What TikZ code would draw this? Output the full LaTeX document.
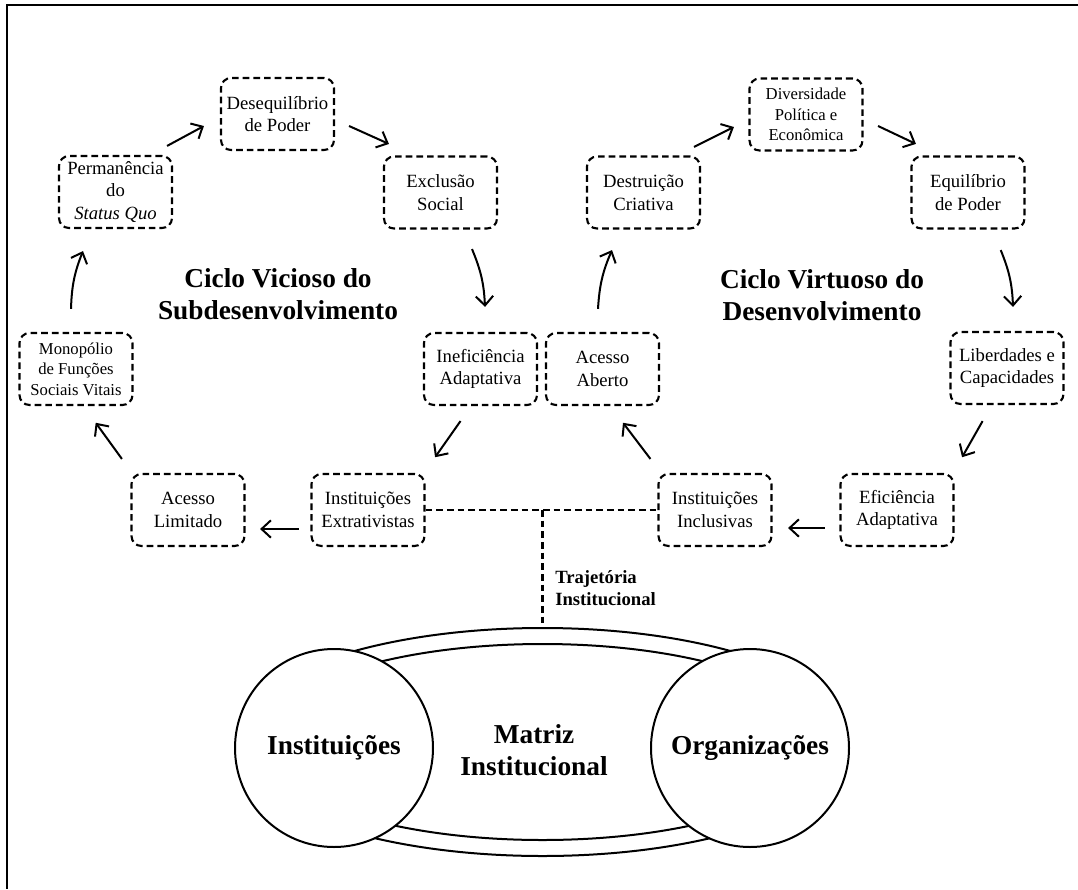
\documentclass[tikz,border=0pt]{standalone}
\usepackage{fontspec}
\setmainfont{Liberation Serif}
\usepackage{tikz}
\usetikzlibrary{arrows.meta,shapes.geometric}
\tikzset{
  stage/.style={draw, rounded corners=7.5pt, line width=1.6pt, dash pattern=on 5pt off 3pt,
    minimum width=84.75pt, minimum height=54pt, inner sep=1pt, align=center,
    font=\fontsize{14}{17}\selectfont},
  stageSmall/.style={stage, font=\fontsize{12.5}{15.4}\selectfont},   % three-line boxes
  flow/.style={-{Straight Barb[length=7pt,width=13pt]}, line width=1.5pt},
  link/.style={line width=1.6pt, dash pattern=on 5pt off 3pt},
  cycleTitle/.style={align=center, font=\fontsize{20.5}{24}\selectfont\bfseries},
  band/.style={ellipse, draw, line width=1.5pt, inner sep=0pt},
  pole/.style={circle, draw, fill=white, line width=1.5pt, minimum size=148.5pt, inner sep=0pt,
    font=\fontsize{20.5}{24}\selectfont\bfseries},
  frameLine/.style={line width=2pt}
}

\begin{document}
\begin{tikzpicture}[x=0.75pt, y=-0.75pt]
  \useasboundingbox (0,0) rectangle (1078,889);
  % Frame
  \draw[frameLine] (1078,5) -- (7,5) -- (7,889);
  % Vicious cycle
  \node[stage] (deseq) at (277.5,114) {Desequilíbrio\\de Poder};
  \node[stage] (perm) at (115.5,192) {Permanência\\do\\\textit{Status Quo}};
  \node[stage] (excl) at (440.5,192.5) {Exclusão\\Social};
  \node[stageSmall] (mono) at (76,369) {Monopólio\\de Funções\\Sociais Vitais};
  \node[stage] (inef) at (480.5,369) {Ineficiência\\Adaptativa};
  \node[stage] (acl) at (188,510) {Acesso\\Limitado};
  \node[stage] (extr) at (368,510) {Instituições\\Extrativistas};
  \node[cycleTitle] (vicious) at (278,294) {Ciclo Vicioso do\\Subdesenvolvimento};
  % Virtuous cycle
  \node[stageSmall] (divers) at (806,114.5) {Diversidade\\Política e\\Econômica};
  \node[stage] (destr) at (643.5,192.5) {Destruição\\Criativa};
  \node[stage] (equil) at (968,192.5) {Equilíbrio\\de Poder};
  \node[stage] (acab) at (602.5,369) {Acesso\\Aberto};
  \node[stage] (liber) at (1007,368) {Liberdades e\\Capacidades};
  \node[stage] (incl) at (715,510) {Instituições\\Inclusivas};
  \node[stage] (efic) at (897,510) {Eficiência\\Adaptativa};
  \node[cycleTitle] (virtuous) at (822,295) {Ciclo Virtuoso do\\Desenvolvimento};
  % Arrows, left loop
  \draw[flow] ([shift={(-5,-23)}]mono.north) to[bend left=10] ([shift={(-32.5,22)}]perm.south);
  \draw[flow] ([shift={(-6,-9)}]perm.north east) -- ([shift={(-16,12)}]deseq.west);
  \draw[flow] ([shift={(14,12)}]deseq.east) -- ([shift={(6,-11.5)}]excl.north west);
  \draw[flow] ([shift={(31.5,19.5)}]excl.south) to[bend left=10] ([shift={(4.5,-25)}]inef.north);
  \draw[flow] ([shift={(-20,15)}]inef.south) -- ([shift={(9.5,-15.7)}]extr.north east);
  \draw[flow] ([shift={(-11.5,19)}]extr.west) -- ([shift={(14.5,19)}]acl.east);
  \draw[flow] ([shift={(-8.5,-14)}]acl.north west) -- ([shift={(19.7,16.7)}]mono.south);
  % Arrows, right loop
  \draw[flow] ([shift={(-14.5,18)}]efic.west) -- ([shift={(15.5,18)}]incl.east);
  \draw[flow] ([shift={(-7,-14)}]incl.north west) -- ([shift={(20.5,16.7)}]acab.south);
  \draw[flow] ([shift={(-4.5,-23)}]acab.north) to[bend left=10] ([shift={(-31.5,20.5)}]destr.south);
  \draw[flow] ([shift={(-7,-8.5)}]destr.north east) -- ([shift={(-14.5,12.5)}]divers.west);
  \draw[flow] ([shift={(14.5,11.5)}]divers.east) -- ([shift={(5.5,-11.5)}]equil.north west);
  \draw[flow] ([shift={(32.7,20.5)}]equil.south) to[bend left=10] ([shift={(6,-24)}]liber.north);
  \draw[flow] ([shift={(-24.4,16)}]liber.south) -- ([shift={(7.5,-15.7)}]efic.north east);
  % Institutional matrix (band ends hidden in the circles)
  \begin{scope}
    \clip (334,600) rectangle (750,880);
    \node[band, minimum width=468pt, minimum height=171pt] (bandOut) at (542.5,742) {};
    \node[band, minimum width=424.5pt, minimum height=147pt] (bandIn) at (542.5,742) {};
  \end{scope}
  \node[pole] (inst) at (334,748) {Instituições};
  \node[pole] (org) at (750,748) {Organizações};
  \node[cycleTitle] (matriz) at (534,750) {Matriz\\Institucional};
  % Trajectory link
  \draw[link] (extr.east) -- (incl.west);
  \draw[link] (bandOut.north |- extr.east) -- (bandOut.north);
  \node[anchor=west, align=left, inner sep=0pt, font=\fontsize{14}{16.5}\selectfont\bfseries]
    (traj) at (555,588) {Trajetória\\Institucional};
\end{tikzpicture}
\end{document}
